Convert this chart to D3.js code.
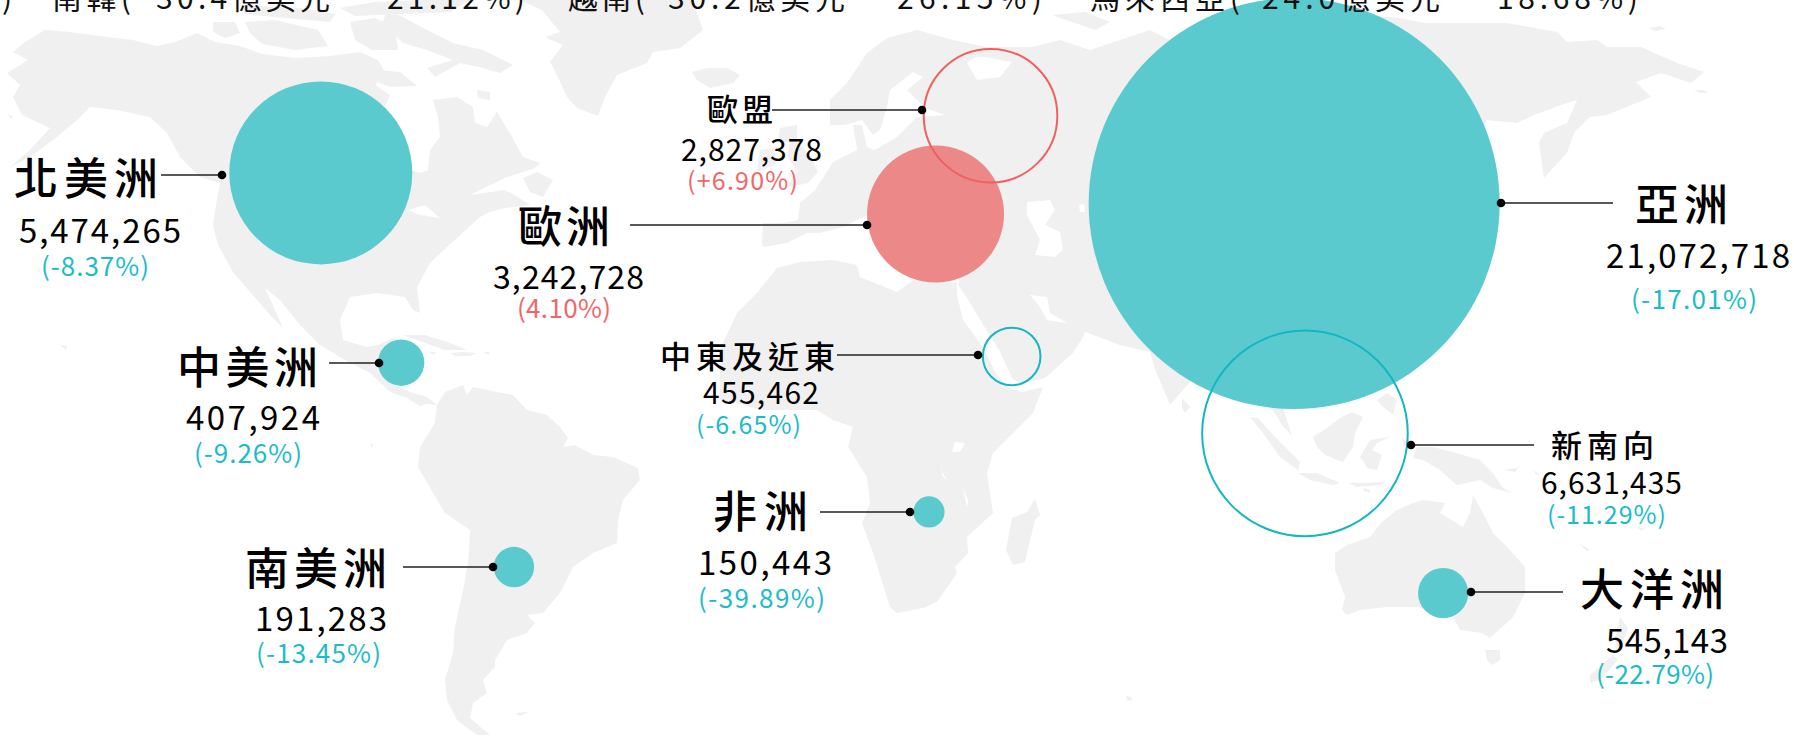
<!DOCTYPE html>
<html>
<head>
<meta charset="utf-8">
<script src="https://d3js.org/d3.v7.min.js"></script>
<style>
html, body { margin: 0; padding: 0; background: #fff; overflow: hidden; }
svg { display: block; }
text { font-family: "Noto Sans CJK TC", "Noto Sans", sans-serif; }
</style>
</head>
<body>
<div id="chart"></div>
<script>
// DATA
const regions = ["北美洲", "中美洲", "南美洲", "歐洲", "歐盟", "中東及近東", "非洲", "亞洲", "新南向", "大洋洲"];
const values = [5474265, 407924, 191283, 3242728, 2827378, 455462, 150443, 21072718, 6631435, 545143];
const changes = [-8.37, -9.26, -13.45, 4.10, 6.90, -6.65, -39.89, -17.01, -11.29, -22.79];
const changeLabels = ["(-8.37%)", "(-9.26%)", "(-13.45%)", "(4.10%)", "(+6.90%)", "(-6.65%)", "(-39.89%)", "(-17.01%)", "(-11.29%)", "(-22.79%)"];
const lons = [-102.6, -85.5, -61.5, 28.2, 39.9, 44.4, 26.8, 104.5, 106.8, 136.2];
const lats = [50.6, 14.1, -25.2, 42.7, 61.6, 15.3, -14.6, 44.7, 0.5, -30.2];
const subsets = ["歐盟", "中東及近東", "新南向"]; // drawn as rings, they sit inside a continent

// sizes in the source are not a clean function of the value, so read them per value
const radiusDomain = [150443, 191283, 407924, 455462, 545143, 2827378, 3242728, 5474265, 6631435, 21072718];
const radiusRange = [15.6, 20.2, 23.2, 28.8, 25.1, 66.8, 68.5, 91.5, 102.8, 205.5];

// clipped headline along the top edge
const headParts = [")", "南韓(", "30.4億美元", "21.12%)", "越南(", "30.2億美元", "26.15%)", "馬來西亞(", "24.0億美元", "18.68%)"];

// TRACED BASE MAP (grid of the 1794 x 736 picture)
const land = [
  // north america
  [[13,52],[25,42],[45,30],[70,32],[100,36],[133,40],[157,46],[175,42],[197,33],[215,42],[240,46],[262,54],[295,58],[330,56],[360,52],[378,60],[385,72],[375,85],[390,95],[375,130],[410,170],[420,173],[428,170],[430,150],[440,137],[438,117],[433,100],[457,97],[473,107],[475,123],[487,127],[497,112],[512,137],[523,157],[540,163],[535,168],[505,178],[470,195],[505,190],[515,195],[530,205],[505,208],[490,212],[480,217],[447,247],[430,263],[417,287],[420,313],[413,310],[405,297],[377,293],[350,297],[340,320],[343,340],[367,347],[378,345],[395,337],[400,350],[395,385],[410,392],[427,397],[437,405],[427,404],[420,406],[407,398],[390,392],[370,373],[345,360],[320,345],[300,325],[280,300],[265,288],[275,310],[283,328],[270,315],[250,292],[233,272],[218,245],[213,225],[216,205],[220,183],[200,177],[180,157],[167,133],[150,117],[117,110],[90,107],[77,120],[57,137],[30,157],[10,167],[30,150],[50,128],[22,115],[13,97],[20,85],[7,73],[20,65],[28,60]],
  // arctic islands
  [[213,22],[235,22],[240,33],[225,38],[213,32]],
  [[245,22],[275,20],[318,30],[328,46],[295,50],[262,44],[250,33]],
  [[240,5],[300,8],[335,14],[330,22],[285,18],[245,14]],
  [[350,22],[375,18],[395,28],[398,50],[372,50],[355,40]],
  [[340,8],[375,2],[420,0],[470,0],[450,12],[400,14],[355,16]],
  [[377,70],[400,72],[417,86],[390,87],[378,82]],
  [[387,10],[403,17],[427,30],[453,43],[483,50],[513,65],[500,73],[483,68],[460,63],[435,77],[427,68],[453,60],[427,50],[403,43],[393,33],[380,30]],
  [[477,90],[490,92],[490,100],[478,98]],
  // newfoundland, caribbean
  [[523,178],[537,172],[553,180],[543,197],[530,192]],
  [[403,335],[425,335],[450,343],[467,350],[445,350],[425,343]],
  [[450,353],[463,352],[477,353],[470,356],[455,356]],
  [[429,352],[436,352],[434,355]],
  [[484,352],[490,352],[488,355]],
  [[60,345],[67,346],[66,350]],
  [[8,115],[13,116],[11,119]],
  // greenland, iceland
  [[520,0],[542,10],[560,32],[545,37],[563,45],[550,62],[557,75],[567,97],[577,108],[598,116],[605,97],[617,75],[647,63],[653,52],[680,48],[693,38],[703,30],[697,13],[693,0]],
  [[692,72],[707,68],[727,68],[740,75],[733,83],[710,88],[697,80]],
  // south america
  [[437,405],[445,392],[463,385],[467,395],[473,387],[497,392],[513,395],[527,410],[547,415],[560,427],[568,438],[563,447],[575,445],[593,455],[613,457],[638,468],[640,480],[623,500],[618,520],[617,543],[593,553],[573,567],[560,593],[543,613],[527,615],[535,623],[527,633],[507,640],[495,660],[495,667],[483,680],[487,693],[473,703],[470,718],[490,735],[477,735],[457,720],[447,700],[445,680],[453,653],[455,627],[463,590],[468,563],[470,530],[445,513],[433,493],[418,467],[420,447],[435,423]],
  [[515,713],[528,712],[520,716]],
  [[370,443],[373,444],[372,448]],
  // africa
  [[777,268],[800,262],[833,260],[857,265],[860,277],[897,292],[913,280],[957,283],[957,295],[963,320],[985,350],[995,372],[1007,387],[1022,392],[1043,387],[1033,413],[1013,433],[993,453],[987,473],[993,513],[967,537],[968,553],[955,567],[957,573],[937,602],[923,608],[897,613],[890,607],[873,553],[862,523],[870,503],[867,477],[848,447],[853,427],[833,420],[817,410],[760,410],[737,403],[720,400],[720,367],[723,343],[737,313],[757,293]],
  [[1035,499],[1040,515],[1035,520],[1025,562],[1013,565],[1006,550],[1012,518],[1027,512]],
  // eurasia
  [[762,243],[763,223],[783,223],[798,220],[800,203],[815,190],[833,162],[857,150],[853,125],[862,125],[867,147],[875,150],[897,137],[917,117],[945,115],[925,108],[907,90],[923,77],[913,72],[890,90],[887,107],[880,130],[873,135],[862,120],[845,125],[830,125],[830,100],[847,83],[867,53],[887,38],[917,30],[953,40],[987,47],[1033,47],[1060,40],[1090,50],[1150,30],[1170,40],[1300,10],[1400,18],[1424,23],[1507,23],[1557,32],[1567,42],[1597,40],[1607,47],[1641,47],[1677,63],[1704,72],[1691,83],[1661,73],[1636,82],[1651,97],[1607,115],[1590,117],[1574,133],[1567,153],[1544,178],[1539,143],[1544,133],[1567,123],[1577,100],[1561,105],[1534,115],[1517,123],[1487,120],[1470,160],[1450,260],[1400,340],[1330,385],[1283,408],[1292,436],[1282,425],[1273,410],[1250,400],[1210,360],[1183,390],[1170,405],[1155,369],[1150,352],[1120,345],[1085,332],[1083,337],[1073,353],[1045,378],[1020,384],[1012,378],[1000,352],[965,295],[958,285],[960,275],[955,265],[920,262],[900,250],[880,240],[867,215],[843,227],[820,233],[807,233],[787,243],[763,247]],
  [[780,128],[797,125],[797,142],[810,155],[818,172],[808,183],[785,188],[797,172],[787,155],[790,143],[778,140]],
  [[760,150],[775,148],[775,165],[757,172]],
  [[1052,15],[1085,12],[1110,22],[1095,30]],
  [[1182,398],[1190,407],[1185,413],[1182,408]],
  [[1649,28],[1660,26],[1666,29],[1655,31]],
  [[1694,90],[1703,90],[1709,93],[1700,93]],
  // south east asia
  [[1250,417],[1258,418],[1275,437],[1300,462],[1298,470],[1280,457],[1263,433]],
  [[1313,437],[1327,428],[1340,418],[1352,412],[1363,417],[1355,433],[1353,447],[1343,462],[1325,455],[1317,447]],
  [[1298,473],[1317,473],[1340,483],[1333,485],[1310,480]],
  [[1348,483],[1360,483],[1387,482],[1380,485],[1357,487]],
  [[1363,488],[1370,490],[1370,493],[1364,491]],
  [[1383,490],[1400,480],[1385,493]],
  [[1360,457],[1370,440],[1390,437],[1377,443],[1372,450],[1382,455],[1377,470],[1367,468],[1363,460]],
  [[1377,400],[1387,393],[1397,400],[1393,415],[1383,407]],
  [[1402,437],[1408,443],[1403,447]],
  // new guinea and neighbours
  [[1417,447],[1433,447],[1453,452],[1480,460],[1493,473],[1502,487],[1512,493],[1493,488],[1480,480],[1457,485],[1440,470],[1423,460],[1413,458]],
  [[1503,470],[1517,468],[1523,462],[1515,472]],
  [[1533,470],[1540,475],[1536,475]],
  [[1577,542],[1590,550],[1587,551]],
  [[1637,527],[1645,528],[1641,531]],
  // australia, new zealand
  [[1335,553],[1347,545],[1370,537],[1382,522],[1397,510],[1413,503],[1423,500],[1445,503],[1440,513],[1463,527],[1470,513],[1473,495],[1483,513],[1493,533],[1507,547],[1525,567],[1525,593],[1513,617],[1490,638],[1482,633],[1460,630],[1453,617],[1417,607],[1387,607],[1360,610],[1347,615],[1342,610],[1345,597],[1335,570]],
  [[1485,650],[1500,650],[1500,660],[1492,665],[1487,660]],
  [[1620,617],[1628,628],[1625,637],[1617,650],[1615,640]],
  [[1613,655],[1618,660],[1600,680],[1590,683],[1590,675]],
  [[1126,696],[1132,697],[1131,701],[1127,700]]
];

// seas and lakes cut back out of the land
const water = [
  [[1027,202],[1050,200],[1055,210],[1045,225],[1060,232],[1063,250],[1055,257],[1035,255],[1040,240],[1027,215]],
  [[1079,205],[1084,204],[1085,212],[1080,212]],
  [[1030,295],[1047,297],[1050,313],[1067,323],[1047,320],[1040,307]],
  [[967,63],[975,57],[985,57],[1012,62],[1000,77],[977,80]],
  [[952,452],[955,442],[965,443],[960,452]],
  [[940,458],[942,472],[948,482],[942,475]],
  [[963,488],[967,508],[968,500]],
  [[408,210],[425,205],[440,218],[420,215]]
];

// LAYOUT
const width = 1794;
const height = 736;
// one entry per region: name, number, change, then the leader line
const layout = [
  { name: [14, 195, 44, 144], num: [19, 243, 33, 162], pct: [41, 276, 26, 108], line: [161, 222, 175] },
  { name: [177, 384, 44, 141], num: [186, 430, 33, 134], pct: [194, 463, 26, 108], line: [329, 379, 363] },
  { name: [245, 585, 44, 142], num: [255, 631, 33, 132], pct: [256, 663, 26, 125], line: [403, 493, 567] },
  { name: [518, 243, 44, 92], num: [493, 289, 32, 151], pct: [517, 318, 26, 94], line: [630, 867, 225] },
  { name: [707, 121, 31, 66], num: [681, 161, 30, 141], pct: [687, 190, 25, 111], line: [772, 922, 110] },
  { name: [660, 368, 31, 175], num: [703, 404, 30, 116], pct: [696, 434, 25, 105], line: [837, 978, 355] },
  { name: [713, 528, 44, 95], num: [698, 575, 33, 134], pct: [698, 608, 26, 127], line: [820, 910, 512] },
  { name: [1635, 221, 44, 93], num: [1606, 268, 33, 184], pct: [1631, 309, 26, 126], line: [1613, 1501, 203] },
  { name: [1551, 457, 31, 103], num: [1541, 494, 30, 141], pct: [1547, 524, 25, 119], line: [1534, 1411, 445] },
  { name: [1580, 606, 44, 144], num: [1606, 653, 33, 122], pct: [1596, 684, 26, 118], line: [1563, 1471, 592] }
];
const headLayout = [[2, 8], [52, 79], [156, 174], [387, 138], [568, 77], [668, 177], [897, 145], [1090, 150], [1262, 178], [1497, 141]];

const colors = { land: "#f0f0f0", teal: "#5acace", ring: "#14b6c1", tealText: "#1bbcc8", red: "#ec8888", redRing: "#f0605f", redText: "#f26668" };

const svg = d3.select("#chart").append("svg")
    .attr("width", width)
    .attr("height", height)
    .attr("viewBox", `0 0 ${width} ${height}`);

// SCALES
const gridX = d3.scaleLinear().domain([0, 1794]).range([0, width]);
const gridY = d3.scaleLinear().domain([0, 736]).range([0, height]);
const lonScale = d3.scaleLinear().domain([0, 100]).range([803, 1273]);
const latScale = d3.scaleLinear().domain([0, 50]).range([436, 176]);
const radius = d3.scaleLinear().domain(radiusDomain).range(radiusRange);

// BASE MAP
const ringPath = d3.line().x(d => gridX(d[0])).y(d => gridY(d[1])).curve(d3.curveLinearClosed);

svg.append("g").selectAll("path")
    .data(land)
    .join("path")
    .attr("d", ringPath)
    .attr("fill", colors.land);

svg.append("g").selectAll("path")
    .data(water)
    .join("path")
    .attr("d", ringPath)
    .attr("fill", "#fff");

// BUBBLES
const rows = regions.map((name, i) => ({
    name, value: values[i], change: changes[i], label: changeLabels[i], lon: lons[i], lat: lats[i], pos: layout[i]
}));

const bubbleOrder = ["亞洲", "北美洲", "中美洲", "南美洲", "歐洲", "非洲", "大洋洲", "歐盟", "中東及近東", "新南向"];

svg.append("g").selectAll("circle")
    .data(bubbleOrder.map(name => rows.find(d => d.name === name)))
    .join("circle")
    .attr("cx", d => lonScale(d.lon))
    .attr("cy", d => latScale(d.lat))
    .attr("r", d => radius(d.value))
    .attr("fill", d => {
        if (subsets.includes(d.name)) return "none";
        return d.change > 0 ? colors.red : colors.teal;
    })
    .attr("stroke", d => {
        if (!subsets.includes(d.name)) return "none";
        return d.change > 0 ? colors.redRing : colors.ring;
    })
    .attr("stroke-width", 2);

// HEADLINE (cut off by the top of the picture, sits over the big bubble)
svg.append("g").selectAll("text")
    .data(headParts)
    .join("text")
    .attr("x", (d, i) => headLayout[i][0])
    .attr("y", 8.5)
    .attr("font-size", 30)
    .attr("fill", "#111")
    .attr("textLength", (d, i) => headLayout[i][1])
    .attr("lengthAdjust", "spacing")
    .text(d => d);

// LEADERS
const leaders = svg.append("g").selectAll("g")
    .data(rows)
    .join("g");

leaders.append("line")
    .attr("x1", d => d.pos.line[0])
    .attr("x2", d => d.pos.line[1])
    .attr("y1", d => d.pos.line[2])
    .attr("y2", d => d.pos.line[2])
    .attr("stroke", "#222")
    .attr("stroke-width", 1.5);

leaders.append("circle")
    .attr("cx", d => d.pos.line[1])
    .attr("cy", d => d.pos.line[2])
    .attr("r", 4.3)
    .attr("fill", "#000");

// LABELS
function addLabel(key, fill, weight, text) {
    svg.append("g").selectAll("text")
        .data(rows)
        .join("text")
        .attr("x", d => d.pos[key][0])
        .attr("y", d => d.pos[key][1])
        .attr("font-size", d => d.pos[key][2])
        .attr("font-weight", weight)
        .attr("fill", fill)
        .attr("textLength", d => d.pos[key][3])
        .attr("lengthAdjust", "spacing")
        .text(text);
}

addLabel("name", "#000", 500, d => d.name);
addLabel("num", "#000", 400, d => d3.format(",")(d.value));
addLabel("pct", d => d.change > 0 ? colors.redText : colors.tealText, 400, d => d.label);
</script>
</body>
</html>
